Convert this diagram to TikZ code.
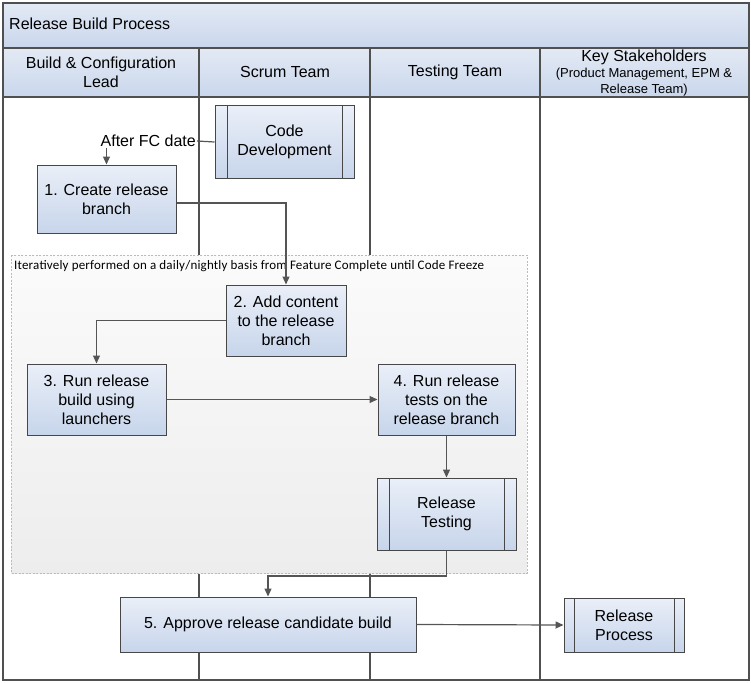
\documentclass[tikz,border=0pt]{standalone}
\usepackage{fontspec}
\setmainfont{Liberation Sans}
\newfontfamily\notefont[LetterSpace=1.5]{Carlito}
\usetikzlibrary{arrows.meta}
\definecolor{lanegray}{HTML}{505050}
\definecolor{boxline}{HTML}{474747}
\definecolor{flowgray}{HTML}{555555}
\definecolor{boxtop}{HTML}{EAEFF8}
\definecolor{boxbot}{HTML}{C7D5EB}
\definecolor{headtop}{HTML}{E3EAF5}
\definecolor{headbot}{HTML}{C9D6EC}
\definecolor{groupline}{HTML}{BBBBBB}
\definecolor{grouptop}{HTML}{FBFBFB}
\definecolor{groupbot}{HTML}{EDEDED}

\begin{document}
\begin{tikzpicture}[x=1pt,y=-1pt,
  lane/.style={draw=lanegray,line width=1.5pt},
  head/.style={align=center,inner sep=0pt,font=\fontsize{16}{19}\selectfont},
  proc/.style={draw=boxline,line width=1pt,top color=boxtop,bottom color=boxbot,
    align=center,inner sep=0pt,font=\fontsize{16}{19}\selectfont},
  sub/.style={proc,path picture={\draw[boxline,line width=1pt]
    ([xshift=#1]path picture bounding box.north west) -- ([xshift=#1]path picture bounding box.south west)
    ([xshift=-#1]path picture bounding box.north east) -- ([xshift=-#1]path picture bounding box.south east);}},
  sub/.default=12pt,
  flow/.style={draw=flowgray,line width=1.2pt,-{Triangle[length=8pt,width=7pt]}}]
\useasboundingbox (0,0) rectangle (751,682);
\fill[top color=headtop,bottom color=headbot] (3,3) rectangle (749,48);
\fill[top color=headtop,bottom color=headbot] (3,48) rectangle (749,97);
\draw[lane] (3,48) -- (749,48) (3,97) -- (749,97);
\foreach \lx in {199,370,540}
  \draw[lane,line width=1.2pt] (\lx,48) -- (\lx,680);
\draw[lane] (3,3) rectangle (749,680);
\node[head,anchor=west] (title) at (9,24) {Release Build Process};
\node[head] (hbuild) at (101,72) {Build \& Configuration\\Lead};
\node[head] (hscrum) at (285,72) {Scrum Team};
\node[head] (htest) at (455,72) {Testing Team};
\node[head,font=\fontsize{13}{16}\selectfont] (hkey) at (644,73)
  {{\fontsize{16}{19}\selectfont Key Stakeholders}\\(Product Management, EPM \&\\Release Team)};

\fill[top color=grouptop,bottom color=groupbot] (11,255) rectangle (527,573);
\draw[groupline,dashed,line width=0.8pt,dash pattern=on 2pt off 1.5pt] (11,255) rectangle (527,573);
\node[anchor=west,inner sep=0pt,font=\notefont\fontsize{13}{15}\selectfont] (note) at (14,266)
  {Iteratively performed on a daily/nightly basis from Feature Complete until Code Freeze};

\node[sub,minimum width=139pt,minimum height=72pt] (code) at (284.5,142) {Code\\Development};
\node[anchor=east,inner sep=1pt,font=\fontsize{16}{19}\selectfont] (fc) at (197,141) {After FC date};
\node[proc,minimum width=139pt,minimum height=68pt] (create) at (106.5,199) {1. Create release\\branch};
\node[proc,minimum width=120pt,minimum height=71pt] (add) at (286,320.5) {2. Add content\\to the release\\branch};
\node[proc,minimum width=139pt,minimum height=71pt] (build) at (96.5,399.5) {3. Run release\\build using\\launchers};
\node[proc,minimum width=137pt,minimum height=71pt] (tests) at (446.5,399.5) {4. Run release\\tests on the\\release branch};
\node[sub,minimum width=139pt,minimum height=72pt] (rtest) at (446.5,514) {Release\\Testing};
\node[proc,minimum width=296pt,minimum height=55pt] (approve) at (268,624.5) {5. Approve release candidate build};
\node[sub=10pt,minimum width=120pt,minimum height=54pt] (relproc) at (624,625) {Release\\Process};
\coordinate (bend) at (446.5,576);

\draw[draw=flowgray,line width=1.2pt] (code.west) -- (fc.east);
\draw[flow] (create.north |- fc.south) -- (create.north);
\draw[flow] ([yshift=-4pt]create.east) -| (add.north);
\draw[flow] (add.west) -| (build.north);
\draw[flow] (build.east) -- (tests.west);
\draw[flow] (tests.south) -- (rtest.north);
\draw[flow] (rtest.south) -- (bend) -| (approve.north);
\draw[flow] (approve.east) -- (relproc.west);
\end{tikzpicture}
\end{document}
